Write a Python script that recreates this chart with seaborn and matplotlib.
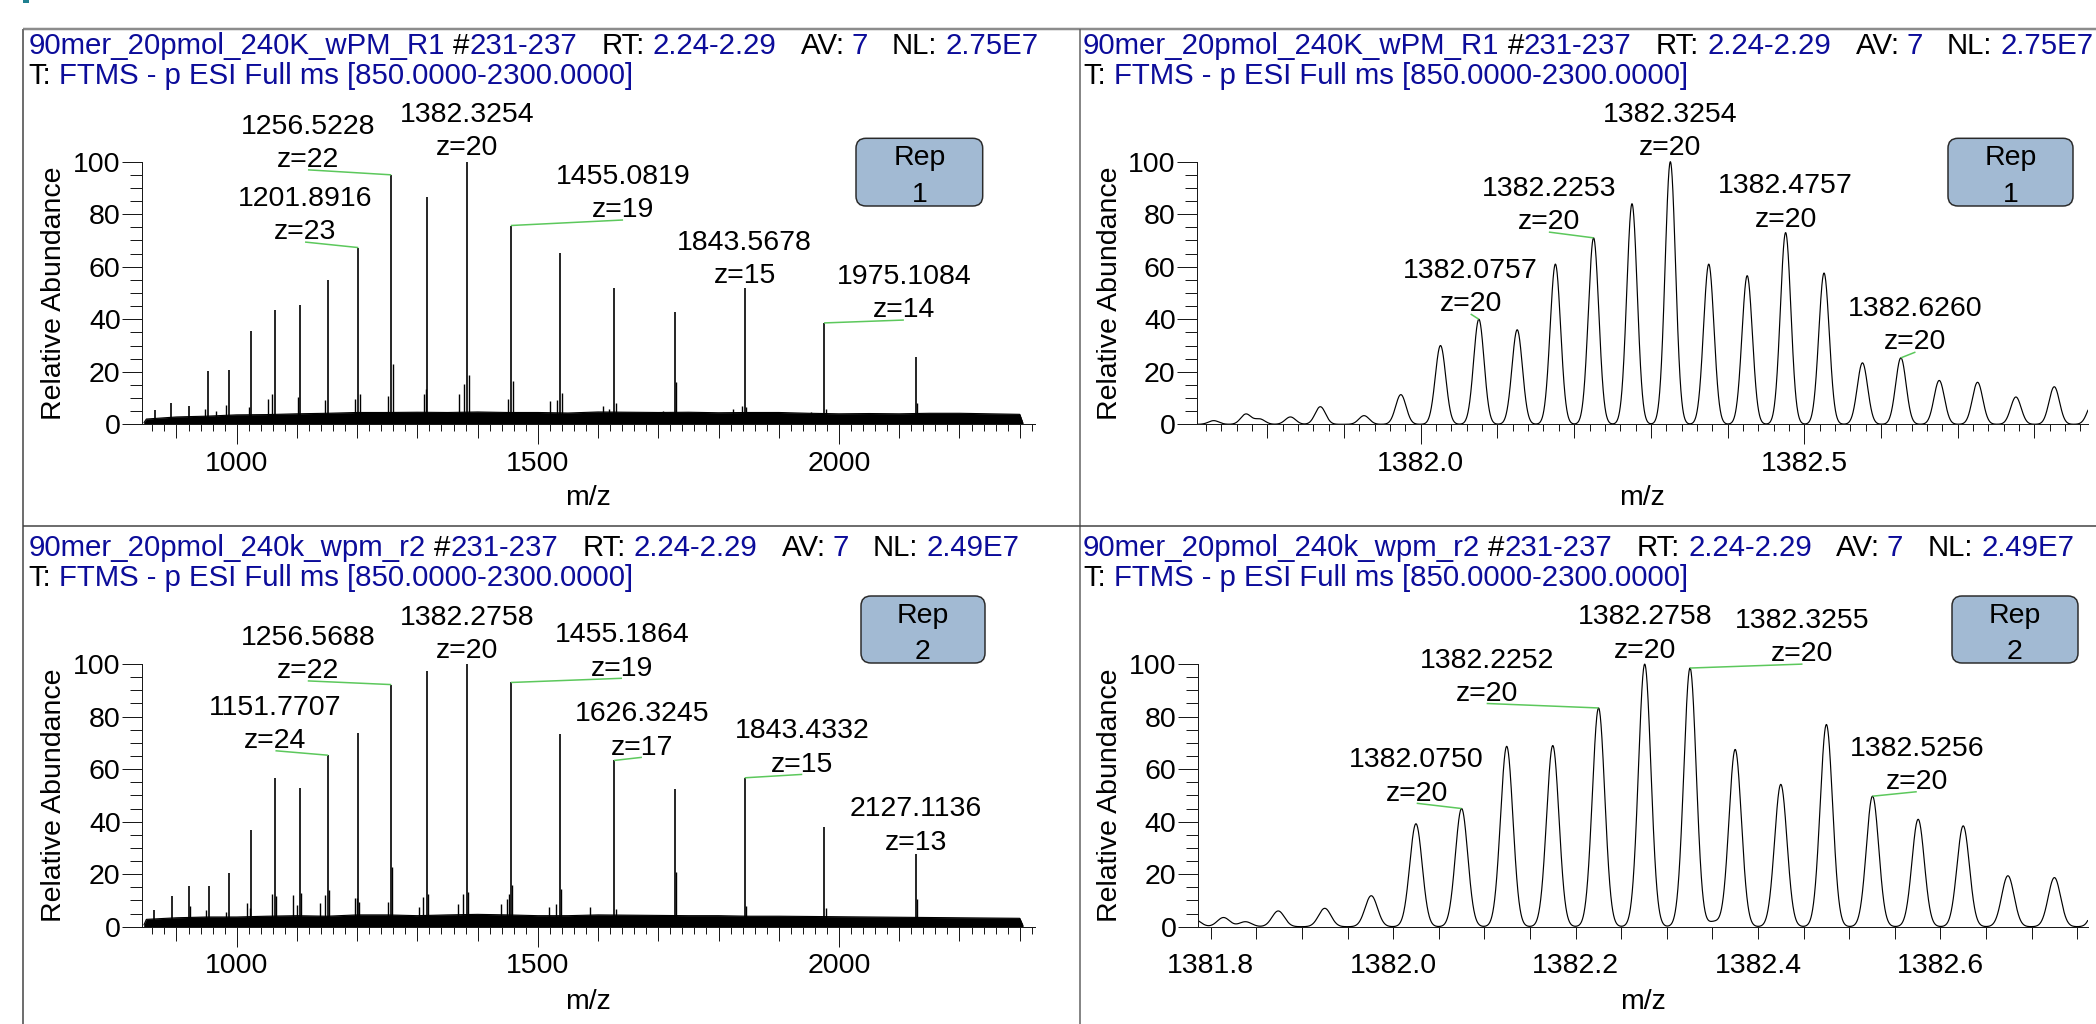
import numpy as np
import seaborn as sns
import matplotlib
matplotlib.use("Agg")
import matplotlib.pyplot as plt
from matplotlib.ticker import FixedLocator, FuncFormatter
from matplotlib.patches import FancyBboxPatch, Rectangle
from matplotlib.font_manager import FontProperties

# ============================ DATA ============================
title_r1 = [("90mer_20pmol_240K_wPM_R1 ", "b"), ("#", "k"), ("231-237", "b"),
            ("   RT: ", "k"), ("2.24-2.29", "b"), ("   AV: ", "k"), ("7", "b"),
            ("   NL: ", "k"), ("2.75E7", "b")]
title_r2 = [("90mer_20pmol_240k_wpm_r2 ", "b"), ("#", "k"), ("231-237", "b"),
            ("   RT: ", "k"), ("2.24-2.29", "b"), ("   AV: ", "k"), ("7", "b"),
            ("   NL: ", "k"), ("2.49E7", "b")]
scan_line = [("T: ", "k"), ("FTMS - p ESI Full ms [850.0000-2300.0000]", "b")]
rep_labels = ["Rep\n1", "Rep\n1", "Rep\n2", "Rep\n2"]
x_label = "m/z"
y_label = "Relative Abundance"

# ---- Rep 1 full scan ----
r1_peak_mz = [863.6, 891.5, 921.2, 952.9, 987.1, 1023.7, 1063.1, 1105.6, 1151.8, 1201.89,
              1256.52, 1316.4, 1382.33, 1455.08, 1536.0, 1626.4, 1728.0, 1843.57, 1975.11, 2127.1]
r1_peak_int = [5.4, 8.0, 7.0, 20.4, 20.8, 35.6, 43.6, 45.3, 55.0, 67.3,
               95.0, 86.5, 100.0, 75.7, 65.4, 52.0, 42.8, 52.0, 38.6, 25.8]
r1_sat_mz = [948.0, 965.5, 982.0, 1021.0, 1051.6, 1059.4, 1101.6, 1147.2, 1197.0, 1204.5,
             1251.6, 1259.4, 1311.0, 1313.5, 1368.3, 1376.6, 1385.0, 1450.0, 1458.8, 1521.0,
             1532.2, 1540.0, 1608.7, 1618.6, 1629.5, 1708.0, 1719.0, 1730.0, 1823.5, 1838.4,
             1846.0, 1953.0, 1978.5, 2129.5, 2158.0]
r1_sat_int = [6.0, 5.0, 7.3, 6.7, 9.5, 11.4, 10.3, 9.3, 9.6, 11.5,
              10.9, 23.0, 11.5, 13.5, 11.5, 15.5, 18.8, 9.5, 16.5, 8.9,
              9.3, 12.0, 7.0, 6.0, 8.0, 5.0, 4.6, 16.0, 5.7, 7.0,
              6.5, 4.5, 6.0, 8.2, 3.8]
r1_noise_mz = [846, 850, 900, 950, 1000, 1050, 1100, 1150, 1200, 1250, 1300, 1350, 1400, 1450,
               1500, 1550, 1600, 1650, 1700, 1750, 1800, 1850, 1900, 1950, 2000, 2050, 2100,
               2150, 2200, 2250, 2300, 2305]
r1_noise_int = [0.6, 2.0, 2.8, 3.1, 3.6, 3.7, 4.0, 4.2, 4.5, 4.5, 4.6, 4.5, 4.7, 4.5,
                4.5, 4.3, 4.7, 4.6, 4.5, 4.6, 4.4, 4.5, 4.5, 4.2, 4.0, 4.1, 4.0,
                4.2, 4.2, 4.0, 3.8, 0.6]
r1_ann_mz = [1201.8916, 1256.5228, 1382.3254, 1455.0819, 1843.5678, 1975.1084]
r1_ann_z = [23, 22, 20, 19, 15, 14]

# ---- Rep 1 zoom on 1382 isotope cluster ----
r1z_peak_mz = [1381.730, 1381.772, 1381.790, 1381.830, 1381.869, 1381.926, 1381.974,
               1382.0257, 1382.0757, 1382.1257, 1382.1755, 1382.2253, 1382.2754, 1382.3254,
               1382.3755, 1382.4256, 1382.4757, 1382.5258, 1382.5759, 1382.6260, 1382.676,
               1382.726, 1382.776, 1382.826, 1382.876]
r1z_peak_int = [1.4, 3.9, 2.0, 2.8, 6.7, 3.3, 11.3,
                30.0, 40.0, 36.0, 61.0, 71.0, 84.0, 100.0,
                61.0, 56.6, 73.0, 57.6, 23.4, 25.3, 16.7,
                16.0, 10.4, 14.3, 8.0]
r1z_ann_mz = [1382.0757, 1382.2253, 1382.3254, 1382.4757, 1382.6260]
r1z_ann_z = [20, 20, 20, 20, 20]

# ---- Rep 2 full scan ----
r2_peak_mz = [863.2, 892.1, 921.3, 953.5, 987.2, 1023.7, 1063.1, 1105.6, 1151.77, 1201.9,
              1256.57, 1316.4, 1382.28, 1455.19, 1536.0, 1626.32, 1728.0, 1843.43, 1975.1, 2127.11]
r2_peak_int = [6.3, 11.7, 15.6, 15.4, 20.6, 36.7, 56.7, 52.7, 65.3, 73.7,
               92.2, 97.5, 100.0, 93.0, 73.4, 63.3, 52.3, 56.7, 38.0, 27.5]
r2_sat_mz = [922.5, 948.5, 982.2, 1017.6, 1022.1, 1059.1, 1064.6, 1093.0, 1099.6, 1107.3,
             1138.9, 1146.6, 1153.2, 1196.4, 1199.2, 1203.6, 1250.6, 1258.4, 1302.7, 1309.9,
             1318.2, 1366.9, 1375.2, 1383.5, 1438.8, 1448.3, 1452.6, 1457.1, 1519.0, 1530.0,
             1537.8, 1586.6, 1629.0, 1730.0, 1846.0, 1978.0, 2129.0]
r2_sat_int = [7.9, 6.3, 5.6, 8.9, 7.0, 12.4, 11.8, 12.2, 8.1, 12.9,
              8.9, 11.9, 14.0, 10.8, 10.8, 9.5, 9.5, 22.6, 7.6, 11.2,
              12.3, 8.5, 12.3, 13.2, 8.6, 10.4, 12.4, 15.9, 7.6, 8.6,
              14.2, 7.4, 6.7, 21.0, 8.0, 7.3, 10.5]
r2_noise_mz = [846, 850, 900, 950, 1000, 1050, 1100, 1150, 1200, 1250, 1300, 1350, 1400, 1450,
               1500, 1550, 1600, 1650, 1700, 1750, 1800, 1850, 1900, 1950, 2000, 2050, 2100,
               2150, 2200, 2250, 2300, 2305]
r2_noise_int = [0.7, 2.8, 3.4, 3.7, 3.7, 4.0, 4.2, 4.0, 4.5, 4.5, 4.2, 4.5, 4.7, 4.5,
                4.2, 4.2, 4.5, 4.4, 4.3, 4.2, 4.2, 4.0, 4.0, 3.9, 3.8, 3.7, 3.6,
                3.5, 3.4, 3.3, 3.2, 0.6]
r2_ann_mz = [1151.7707, 1256.5688, 1382.2758, 1455.1864, 1626.3245, 1843.4332, 2127.1136]
r2_ann_z = [24, 22, 20, 19, 17, 15, 13]

# ---- Rep 2 zoom on 1382 isotope cluster ----
r2z_peak_mz = [1381.782, 1381.814, 1381.838, 1381.874, 1381.925, 1381.976, 1382.025,
               1382.0750, 1382.1245, 1382.175, 1382.2252, 1382.2758, 1382.3255, 1382.352,
               1382.375, 1382.425, 1382.475, 1382.5256, 1382.5756, 1382.625, 1382.674,
               1382.725, 1382.775]
r2z_peak_int = [2.8, 3.5, 1.9, 6.0, 7.0, 11.8, 39.2,
                45.0, 68.7, 69.0, 83.3, 100.0, 98.5, 1.9,
                67.5, 54.2, 77.0, 49.7, 40.9, 38.4, 19.4,
                18.7, 17.0]
r2z_ann_mz = [1382.0750, 1382.2252, 1382.2758, 1382.3255, 1382.5256]
r2z_ann_z = [20, 20, 20, 20, 20]

# ============================ LAYOUT / STYLE ============================
W, H, DPI = 2096, 1024, 100
PT = 72.0 / DPI          # points per pixel
FS = 20.5
FS_T = 21.2
BLUE = '#0c0c9a'
GREEN = '#5cc85c'
YPX = 2.626              # pixels per 1 % abundance
YTOP = 125
SIGMA = 0.0068           # peak width (rendering of profile peaks)
COL = {"b": BLUE, "k": "black"}

# label positions (m/z of label centre, None = straight above peak; baseline level in %)
r1_lab_x = [1113.5, 1118.4, None, 1641.5, None, 2107.7]
r1_lab_y = [69.4, 96.9, 101.5, 77.8, 52.7, 39.7]
r1z_lab_x = [1382.065, 1382.167, None, None, 1382.645]
r1z_lab_y = [42.0, 73.2, 101.5, 74.2, 27.5]
r2_lab_x = [1064.4, 1118.0, None, 1639.7, 1672.8, 1939.0, None]
r2_lab_y = [67.0, 93.6, 101.2, 94.6, 64.5, 58.0, 28.3]
r2z_lab_x = [1382.0258, 1382.1025, None, 1382.4488, 1382.5741]
r2z_lab_y = [47.0, 85.0, 101.4, 100.0, 51.4]

sns.set_theme(style="ticks")
plt.rcParams['font.family'] = ['Liberation Sans', 'DejaVu Sans']
plt.rcParams['text.color'] = 'black'
plt.rcParams['axes.edgecolor'] = '#1a1a1a'
plt.rcParams['xtick.color'] = '#1a1a1a'
plt.rcParams['ytick.color'] = '#1a1a1a'
plt.rcParams['xtick.labelcolor'] = 'black'
plt.rcParams['ytick.labelcolor'] = 'black'

fig = plt.figure(figsize=(W / DPI, H / DPI), dpi=DPI, facecolor='white')
ov = fig.add_axes([0, 0, 1, 1], zorder=10)
ov.set_xlim(0, W)
ov.set_ylim(H, 0)
ov.axis('off')


def make_ax(left, right, y0):
    hpx = YTOP * YPX
    ax = fig.add_axes([left / W, (H - y0) / H, (right - left) / W, hpx / H])
    ax.patch.set_alpha(0)
    return ax


def style_ax(ax, xlim, minor, mid, major, lens, pad, fmt):
    ax.set_xlim(*xlim)
    ax.set_ylim(0, YTOP)
    ax.set_xlabel('')
    ax.set_ylabel('')
    for s in ('top', 'right'):
        ax.spines[s].set_visible(False)
    ax.spines['left'].set_bounds(0, 100)
    for s in ('left', 'bottom'):
        ax.spines[s].set_linewidth(1.0 * PT)
        ax.spines[s].set_color('#1a1a1a')
    lo, hi = xlim

    def mult(step):
        n0 = int(np.ceil(lo / step - 1e-9))
        n1 = int(np.floor(hi / step + 1e-9))
        return [round(k * step, 6) for k in range(n0, n1 + 1)]

    def is_major(v):
        return abs(v / major - round(v / major)) < 1e-6

    mids = mult(mid)
    minors = [v for v in mult(minor) if all(abs(v - m) > 1e-6 for m in mids)] if minor else []
    ax.xaxis.set_major_locator(FixedLocator(mids))
    ax.xaxis.set_major_formatter(FuncFormatter(lambda v, pos: (fmt % v) if is_major(v) else ''))
    ax.xaxis.set_minor_locator(FixedLocator(minors))
    ax.tick_params(axis='x', which='major', bottom=True, direction='out', length=lens[2] * PT,
                   width=1.0 * PT, pad=pad * PT, labelsize=FS)
    ax.tick_params(axis='x', which='minor', bottom=True, direction='out', length=lens[0] * PT,
                   width=1.0 * PT)
    ticks = ax.xaxis.get_major_ticks(len(mids))
    for t, v in zip(ticks, mids):
        if not is_major(v):
            t.tick1line.set_markersize(lens[1] * PT)
    ax.yaxis.set_major_locator(FixedLocator([0, 20, 40, 60, 80, 100]))
    ax.yaxis.set_major_formatter(FuncFormatter(lambda v, pos: '%d' % v))
    ax.yaxis.set_minor_locator(FixedLocator([v for v in range(5, 100, 5) if v % 20]))
    ax.tick_params(axis='y', which='major', left=True, direction='out', length=20 * PT,
                   width=1.0 * PT, pad=1.0 * PT, labelsize=FS)
    ax.tick_params(axis='y', which='minor', left=True, direction='out', length=12 * PT,
                   width=1.0 * PT)


def draw_full(ax, noise_mz, noise_int, sat_mz, sat_int, pk_mz, pk_int):
    ax.fill_between(noise_mz, 0, noise_int, color='black', lw=0.4)
    sns.lineplot(x=noise_mz, y=noise_int, ax=ax, color='black', linewidth=0.8)
    ax.vlines(sat_mz, 0, sat_int, color='black', lw=1.0)
    ax.vlines(pk_mz, 0, pk_int, color='black', lw=1.2)


def draw_profile(ax, pk_mz, pk_int, xlim):
    x = np.linspace(xlim[0], xlim[1], 6000)
    y = np.zeros_like(x)
    for c, h in zip(pk_mz, pk_int):
        y += h * np.exp(-0.5 * ((x - c) / SIGMA) ** 2)
    sns.lineplot(x=x, y=y, ax=ax, color='black', linewidth=0.85, estimator=None, sort=False)


def annotate(ax, ann_mz, ann_z, pk_mz, pk_int, lab_x, lab_y):
    pm = np.asarray(pk_mz)
    for m, z, lx, ly in zip(ann_mz, ann_z, lab_x, lab_y):
        i = int(np.argmin(np.abs(pm - m)))
        px, ph = pk_mz[i], pk_int[i]
        if lx is None:
            lx = px
        else:
            ax.plot([lx, px], [ly, ph], color=GREEN, lw=1.1, solid_capstyle='butt')
        ax.annotate(f"z={z}", xy=(lx, ly), xytext=(0, 1.9), textcoords='offset points',
                    ha='center', va='baseline', fontsize=FS, color='black')
        ax.annotate(f"{m:.4f}", xy=(lx, ly), xytext=(0, 1.9 + 24.0), textcoords='offset points',
                    ha='center', va='baseline', fontsize=FS, color='black')


# ---------------- panels ----------------
XL_FULL = (842.3, 2325.4)
XL_Z1 = (1381.7078, 1382.8700)
XL_Z2 = (1381.7856, 1382.7615)

ax1 = make_ax(141.7, 1035.0, 424.3)
draw_full(ax1, r1_noise_mz, r1_noise_int, r1_sat_mz, r1_sat_int, r1_peak_mz, r1_peak_int)
style_ax(ax1, XL_FULL, 20, 100, 500, (7, 14, 20), 6.5, '%d')
annotate(ax1, r1_ann_mz, r1_ann_z, r1_peak_mz, r1_peak_int, r1_lab_x, r1_lab_y)

ax2 = make_ax(1196.7, 2088.0, 424.3)
draw_profile(ax2, r1z_peak_mz, r1z_peak_int, XL_Z1)
style_ax(ax2, XL_Z1, 0.02, 0.1, 0.5, (7, 14, 20), 6.5, '%.1f')
annotate(ax2, r1z_ann_mz, r1z_ann_z, r1z_peak_mz, r1z_peak_int, r1z_lab_x, r1z_lab_y)

ax3 = make_ax(141.7, 1035.0, 926.7)
draw_full(ax3, r2_noise_mz, r2_noise_int, r2_sat_mz, r2_sat_int, r2_peak_mz, r2_peak_int)
style_ax(ax3, XL_FULL, 20, 100, 500, (7, 14, 20), 6.5, '%d')
annotate(ax3, r2_ann_mz, r2_ann_z, r2_peak_mz, r2_peak_int, r2_lab_x, r2_lab_y)

ax4 = make_ax(1197.6, 2087.7, 926.7)
draw_profile(ax4, r2z_peak_mz, r2z_peak_int, XL_Z2)
style_ax(ax4, XL_Z2, None, 0.05, 0.2, (12, 12, 12), 14.5, '%.1f')
annotate(ax4, r2z_ann_mz, r2z_ann_z, r2z_peak_mz, r2z_peak_int, r2z_lab_x, r2z_lab_y)

# ---------------- overlay: frame, titles, labels, boxes ----------------
ov.plot([22.7, W], [29.3, 29.3], color='#8c8c8c', lw=2.5 * PT, solid_capstyle='butt')
ov.plot([22.7, 22.7], [29.3, H], color='#707070', lw=2.0 * PT, solid_capstyle='butt')
ov.plot([1080, 1080], [29.3, H], color='#606060', lw=1.5 * PT, solid_capstyle='butt')
ov.plot([22.7, W], [526, 526], color='#404040', lw=1.5 * PT, solid_capstyle='butt')
ov.add_patch(Rectangle((22.7, 0), 6.6, 2.8, color='#1f8090', lw=0))

fp_t = FontProperties(family=['Liberation Sans', 'DejaVu Sans'], size=FS_T)
renderer = fig.canvas.get_renderer()


def tw(s):
    w, h, d = renderer.get_text_width_height_descent(s, fp_t, ismath=False)
    return w


def draw_segments(x0, y, segs):
    prefix = ''
    bar = tw('|')
    for s, c in segs:
        lead = len(s) - len(s.lstrip(' '))
        pl = prefix + s[:lead]
        x = x0 + (tw(pl + '|') - bar if pl else 0.0)
        ov.text(x, y, s.strip(' '), color=COL[c], fontproperties=fp_t, ha='left', va='baseline')
        prefix += s


for (x0, y1, segs) in [(28.3, 54.0, title_r1), (1083.0, 54.0, title_r1),
                       (28.3, 556.4, title_r2), (1083.0, 556.4, title_r2)]:
    draw_segments(x0, y1, segs)
    draw_segments(x0, y1 + 30.0, scan_line)

for (xc, yc) in [(54, 293), (1110, 293), (54, 795.4), (1110, 795.4)]:
    ov.text(xc, yc, y_label, rotation=90, ha='center', va='center', fontsize=FS, color='black')

for (xc, yc) in [(588.4, 498), (1642.4, 498), (588.4, 1002), (1642.6, 1002)]:
    ov.text(xc, yc, x_label, ha='center', va='center', fontsize=FS, color='black')

boxes = [(856, 138.3, 126.7, 67.7), (1948, 138.3, 125.0, 67.7),
         (861, 596.0, 124.0, 67.0), (1952, 596.0, 126.0, 67.0)]
for (bx, by, bw, bh), lab in zip(boxes, rep_labels):
    ov.add_patch(FancyBboxPatch((bx, by), bw, bh, boxstyle="round,pad=0,rounding_size=10",
                                fc='#a2bad3', ec='#2a2a2a', lw=1.5 * PT))
    l1, l2 = lab.split('\n')
    ov.text(bx + bw / 2, by + 26.7, l1, ha='center', va='baseline', fontsize=FS, color='black')
    ov.text(bx + bw / 2, by + 63.4, l2, ha='center', va='baseline', fontsize=FS, color='black')

fig.savefig("out.png", dpi=DPI, facecolor='white')
